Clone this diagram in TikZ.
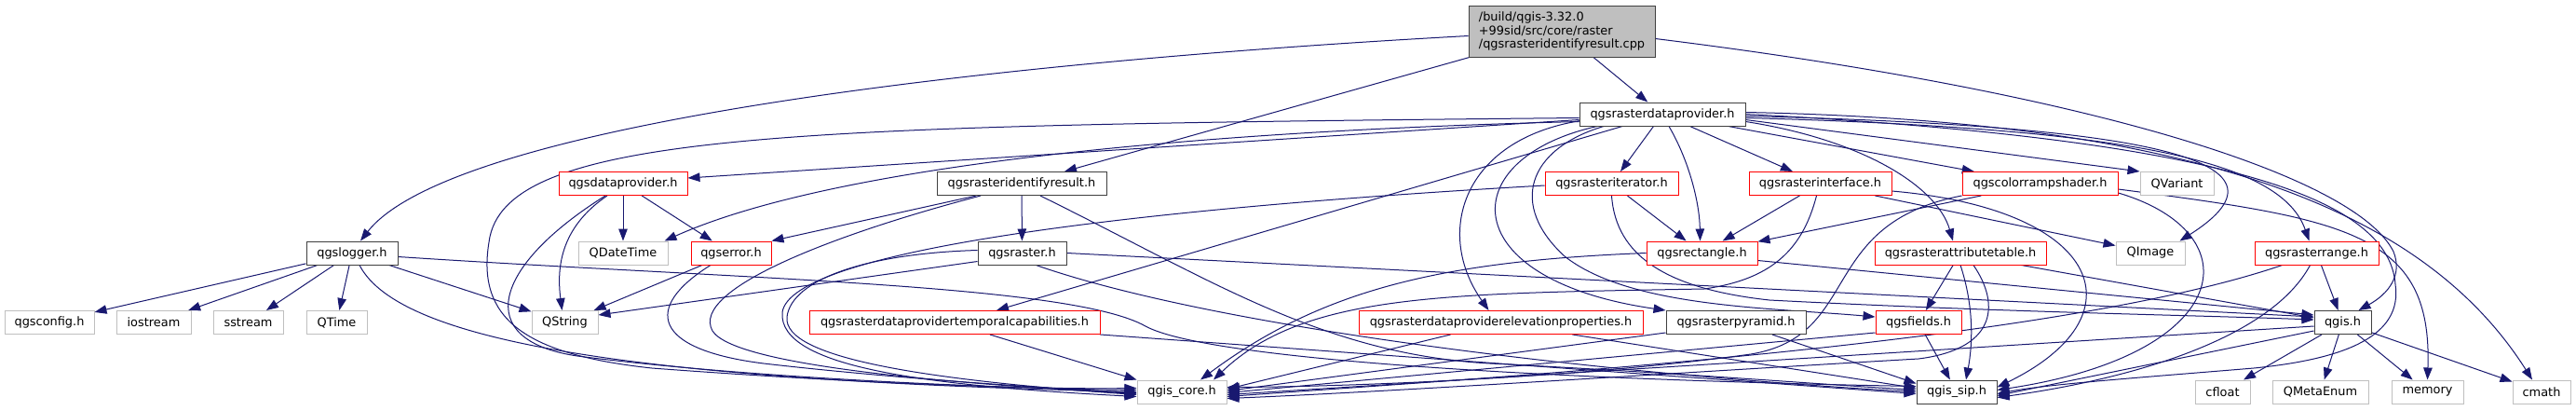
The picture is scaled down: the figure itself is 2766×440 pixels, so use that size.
\documentclass[tikz,border=0pt]{standalone}
\usepackage{fontspec}
\newfontfamily\nf{DejaVu Sans}
\usetikzlibrary{arrows.meta}
\pgfdeclarelayer{bg}
\pgfsetlayers{bg,main}
\definecolor{edgeblue}{HTML}{191970}
\definecolor{gry}{HTML}{BFBFBF}
\definecolor{nodeblack}{HTML}{404040}
\definecolor{nodered}{HTML}{FF0000}
\begin{document}
\begin{tikzpicture}[x=1pt,y=-1pt,
  box/.style={draw, line width=1pt, minimum height=25pt, inner sep=0pt, font=\nf\fontsize{12.9}{14.7}\selectfont, fill=white, text=black},
  docn/.style={box, draw=nodeblack},
  trunc/.style={box, draw=nodered},
  extn/.style={box, draw=gry},
  edge/.style={draw=edgeblue, line width=1pt, -{Triangle[length=13pt,width=9.5pt]}}]
\useasboundingbox (0,0) rectangle (2766,440);
\begin{pgfonlayer}{bg}
\fill[white] (0,0) rectangle (2766,440);
\end{pgfonlayer}
% nodes
\node[docn, fill=gry, minimum width=200pt, minimum height=55pt, align=left] (root) at (1677,33.5) {/build/qgis-3.32.0\\+99sid/src/core/raster\\/qgsrasteridentifyresult.cpp};
\node[docn, minimum width=178pt] (rdp) at (1785,122.5) {qgsrasterdataprovider.h};
% row 1
\node[trunc, minimum width=138pt] (dataprov) at (669,197) {qgsdataprovider.h};
\node[docn, minimum width=182pt] (irh) at (1097,197) {qgsrasteridentifyresult.h};
\node[trunc, minimum width=143pt] (iter) at (1730.5,197) {qgsrasteriterator.h};
\node[trunc, minimum width=153pt] (iface) at (1954.5,197) {qgsrasterinterface.h};
\node[trunc, minimum width=167pt] (crs) at (2190.5,197) {qgscolorrampshader.h};
\node[extn, minimum width=79pt] (qvariant) at (2337.5,197) {QVariant};
% row 2
\node[docn, minimum width=98pt] (logger) at (378,271.5) {qgslogger.h};
\node[extn, minimum width=96pt] (qdatetime) at (669,271.5) {QDateTime};
\node[trunc, minimum width=86pt] (error) at (785,271.5) {qgserror.h};
\node[docn, minimum width=95pt] (raster) at (1097.5,271.5) {qgsraster.h};
\node[trunc, minimum width=119pt] (rect) at (1827.5,271.5) {qgsrectangle.h};
\node[trunc, minimum width=184pt] (rat) at (2105,271.5) {qgsrasterattributetable.h};
\node[extn, minimum width=74pt] (qimage) at (2309,271.5) {QImage};
\node[trunc, minimum width=133pt] (range) at (2487.5,271.5) {qgsrasterrange.h};
% row 3
\node[extn, minimum width=96pt] (qgsconfig) at (53,346) {qgsconfig.h};
\node[extn, minimum width=80pt] (iostream) at (165,346) {iostream};
\node[extn, minimum width=75pt] (sstream) at (266.5,346) {sstream};
\node[extn, minimum width=65pt] (qtime) at (361.5,346) {QTime};
\node[extn, minimum width=71pt] (qstring) at (606.5,346) {QString};
\node[trunc, minimum width=312pt] (temporal) at (1025,346) {qgsrasterdataprovidertemporalcapabilities.h};
\node[trunc, minimum width=305pt] (elev) at (1611.5,346) {qgsrasterdataproviderelevationproperties.h};
\node[docn, minimum width=150pt] (pyramid) at (1864,346) {qgsrasterpyramid.h};
\node[trunc, minimum width=92pt] (fields) at (2060,346) {qgsfields.h};
\node[docn, minimum width=61pt] (qgis) at (2515.5,346) {qgis.h};
% row 4
\node[extn, minimum width=96pt] (core) at (1269,420.5) {qgis\_core.h};
\node[docn, minimum width=86pt] (sip) at (2101,420.5) {qgis\_sip.h};
\node[extn, minimum width=59pt] (cfloat) at (2386.5,420.5) {cfloat};
\node[extn, minimum width=103pt] (qmetaenum) at (2491.5,420.5) {QMetaEnum};
\node[extn, minimum width=77pt] (memory) at (2606.5,420.5) {memory};
\node[extn, minimum width=62pt] (cmath) at (2729,420.5) {cmath};

\begin{pgfonlayer}{bg}
% root
\draw[edge] ([yshift=-5pt]root.west) .. controls (1000,70) and (480,140) .. ([xshift=9pt]logger.north);
\draw[edge] (root) -- (irh);
\draw[edge] (root) -- (rdp);
\draw[edge] ([yshift=-8pt]root.east) .. controls (2250,100) and (2530,190) .. (2570,270) .. controls (2580,295) and (2565,315) .. ([xshift=17pt]qgis.north);
% rdp
\draw[edge] ([yshift=-6pt]rdp.west) -- ([yshift=6pt]dataprov.east);
\draw[edge] ([yshift=-8pt]rdp.west) .. controls (1300,140) and (900,175) .. ([xshift=-4pt]qdatetime.north east);
\draw[edge] ([yshift=-4pt]rdp.west) .. controls (850,135) and (540,140) .. (525,260) .. controls (512,340) and (560,380) .. (700,395) .. controls (900,410) and (1100,418) .. ([yshift=4pt]core.west);
\draw[edge] ([xshift=-43pt]rdp.south) -- ([xshift=45pt]temporal.north);
\draw[edge] ([xshift=-88pt,yshift=6pt]rdp.south) .. controls (1570,150) and (1540,250) .. ([xshift=-13pt]elev.north);
\draw[edge] ([xshift=-70pt]rdp.south) .. controls (1560,170) and (1560,300) .. (pyramid.north west);
\draw[edge] ([xshift=-63pt]rdp.south) .. controls (1640,160) and (1620,220) .. (1680,275) .. controls (1750,330) and (1900,330) .. ([yshift=6pt]fields.west);
\draw[edge] (rdp) -- (iter);
\draw[edge] ([xshift=7pt]rdp.south) .. controls (1815,175) and (1825,220) .. ([xshift=-2pt]rect.north);
\draw[edge] (rdp) -- (iface);
\draw[edge] (rdp) -- (crs);
\draw[edge] ([yshift=-8pt]rdp.east) .. controls (2000,150) and (2080,200) .. ([xshift=-8pt]rat.north);
\draw[edge] ([yshift=-6pt]rdp.east) -- (qvariant.north west);
\draw[edge] ([yshift=-2pt]rdp.east) .. controls (2300,135) and (2480,170) .. ([xshift=-6pt]qimage.north east);
\draw[edge] ([yshift=-4pt]rdp.east) .. controls (2300,138) and (2450,175) .. ([xshift=-8pt]range.north);
\draw[edge] ([yshift=2pt]rdp.east) .. controls (2350,130) and (2600,220) .. ([xshift=-10pt]cmath.north);
\draw[edge] (rdp.east) .. controls (2400,150) and (2565,215) .. (2572,305) .. controls (2580,360) and (2520,385) .. (2420,395) .. controls (2300,405) and (2200,412) .. ([yshift=-2pt]sip.east);
% dataprov
\draw[edge] (dataprov) -- (qdatetime);
\draw[edge] (dataprov) -- (error);
\draw[edge] ([xshift=-17pt]dataprov.south) .. controls (600,245) and (598,290) .. ([xshift=-3pt]qstring.north);
\draw[edge] ([xshift=-19pt]dataprov.south) .. controls (530,285) and (505,365) .. (620,382) .. controls (800,405) and (1050,416) .. ([yshift=2pt]core.west);
% logger
\draw[edge] (logger) -- (qgsconfig);
\draw[edge] (logger) -- (iostream);
\draw[edge] (logger) -- (sstream);
\draw[edge] (logger) -- (qtime);
\draw[edge] (logger) -- (qstring);
\draw[edge] ([xshift=8pt]logger.south) .. controls (430,370) and (700,408) .. (core.west);
\draw[edge] ([yshift=-4pt]logger.east) .. controls (800,300) and (1150,305) .. (1230,350) .. controls (1300,388) and (1700,408) .. ([yshift=6pt]sip.west);
% error
\draw[edge] (error) -- (qstring);
\draw[edge] ([xshift=-22pt]error.south) .. controls (690,330) and (700,375) .. (820,390) .. controls (950,405) and (1100,415) .. ([yshift=-1pt]core.west);
% irh
\draw[edge] (irh) -- (raster);
\draw[edge] ([xshift=-49pt]irh.south) -- (error.north east);
\draw[edge] ([xshift=-44pt]irh.south) .. controls (900,250) and (740,310) .. (765,355) .. controls (790,395) and (1050,413) .. ([yshift=-2pt]core.west);
\draw[edge] ([xshift=20pt]irh.south) .. controls (1300,300) and (1420,380) .. (1600,390) .. controls (1800,400) and (1950,412) .. ([yshift=2pt]sip.west);
% raster
\draw[edge] ([yshift=-9pt]raster.west) -- ([yshift=8pt]qstring.east);
\draw[edge] ([yshift=3pt]raster.west) .. controls (930,272) and (850,300) .. (845,340) .. controls (840,385) and (1000,408) .. ([yshift=-3pt]core.west);
\draw[edge] (raster.east) -- ([yshift=6pt]qgis.west);
\draw[edge] ([xshift=15pt]raster.south) .. controls (1300,350) and (1700,400) .. (sip.west);
% temporal
\draw[edge] ([xshift=38pt]temporal.south) -- (core.north west);
\draw[edge] (temporal.south east) -- ([yshift=-2pt]sip.west);
% elev, pyramid, fields
\draw[edge] ([xshift=-54pt]elev.south) -- ([yshift=3pt]core.east);
\draw[edge] ([xshift=77pt]elev.south) -- ([yshift=4pt]sip.west);
\draw[edge] ([yshift=-11pt]pyramid.west) -- ([yshift=1pt]core.east);
\draw[edge] ([xshift=39pt]pyramid.south) -- ([yshift=9pt]sip.west);
\draw[edge] (fields) -- (sip);
\draw[edge] ([yshift=-11pt]fields.west) -- ([yshift=-1pt]core.east);
% iter
\draw[edge] (iter) -- (rect);
\draw[edge] ([yshift=-2pt]iter.west) .. controls (1200,225) and (850,270) .. (840,335) .. controls (835,395) and (1000,414) .. ([yshift=-5pt]core.west);
\draw[edge] (iter.south) .. controls (1735,275) and (1790,310) .. (1900,322) .. controls (2150,335) and (2350,338) .. ([yshift=3pt]qgis.west);
% iface
\draw[edge] (iface) -- (rect);
\draw[edge] ([xshift=-4pt]iface.south) .. controls (1935,270) and (1900,300) .. (1830,310) .. controls (1550,315) and (1400,315) .. ([xshift=34pt]core.north);
\draw[edge] ([xshift=-18pt]iface.south east) -- ([yshift=8pt]qimage.west);
\draw[edge] ([yshift=-8pt]iface.east) .. controls (2260,225) and (2300,340) .. ([yshift=5pt]sip.east);
% crs
\draw[edge] (crs) -- (rect);
\draw[edge] (crs.south west) .. controls (1950,240) and (2000,360) .. (1880,380) .. controls (1700,405) and (1450,415) .. ([yshift=5pt]core.east);
\draw[edge] ([yshift=-10pt]crs.east) .. controls (2420,250) and (2400,380) .. ([yshift=2pt]sip.east);
\draw[edge] ([yshift=-6pt]crs.east) .. controls (2520,235) and (2612,250) .. (memory.north);
% rect
\draw[edge] (rect.west) .. controls (1550,280) and (1420,310) .. ([xshift=20pt]core.north);
\draw[edge] ([yshift=-8pt]rect.east) -- ([yshift=8pt]qgis.west);
% rat
\draw[edge] (rat) -- (fields);
\draw[edge] (rat.south) .. controls (2120,330) and (2118,370) .. ([xshift=10pt]sip.north);
\draw[edge] ([xshift=14pt]rat.south) .. controls (2150,330) and (2140,375) .. (2060,385) .. controls (1800,400) and (1500,420) .. ([yshift=-7pt]core.east);
\draw[edge] ([xshift=-27pt]rat.south east) -- ([yshift=5pt]qgis.west);
% range
\draw[edge] (range) -- (qgis);
\draw[edge] ([xshift=-37pt]range.south) .. controls (2200,370) and (1600,405) .. ([yshift=-5pt]core.east);
\draw[edge] ([xshift=-7pt]range.south) .. controls (2440,360) and (2300,405) .. ([yshift=-6pt]sip.east);
% qgis
\draw[edge] (qgis) -- (cfloat);
\draw[edge] (qgis) -- (qmetaenum);
\draw[edge] (qgis) -- (memory);
\draw[edge] (qgis) -- (cmath);
\draw[edge] ([yshift=-4pt]qgis.west) -- ([yshift=-3pt]core.east);
\draw[edge] ([yshift=-9pt]qgis.west) -- ([yshift=-4pt]sip.east);
\end{pgfonlayer}
\end{tikzpicture}
\end{document}
